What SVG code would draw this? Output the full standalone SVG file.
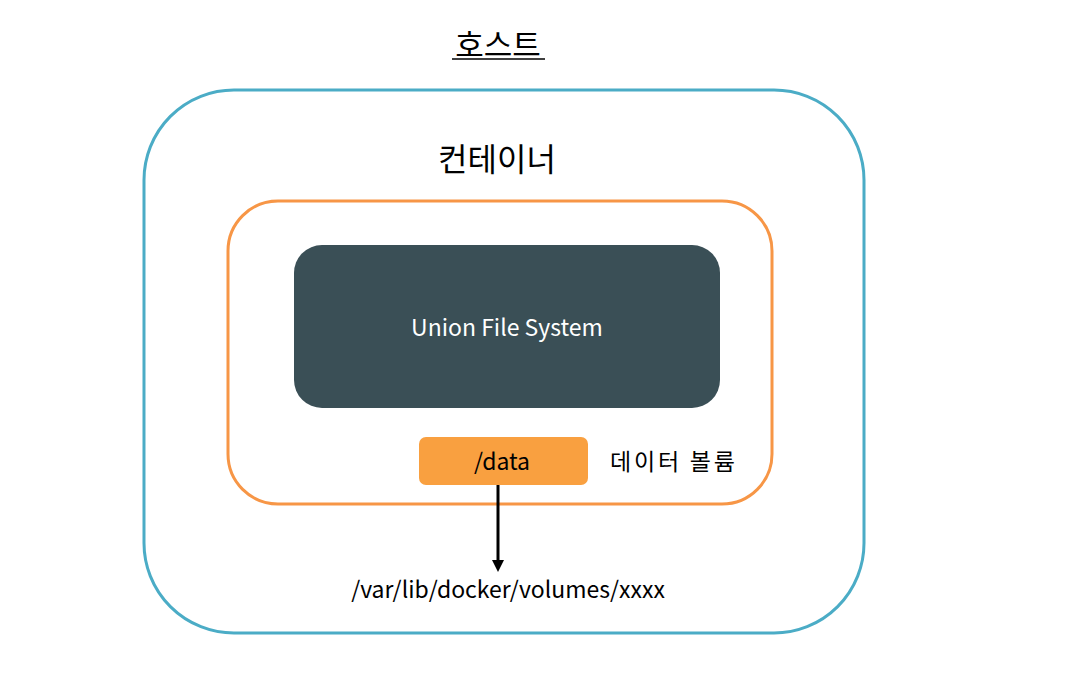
<svg xmlns="http://www.w3.org/2000/svg" width="1065" height="680" viewBox="0 0 1065 680">
<style>
text{font-family:"Noto Sans CJK KR","Noto Sans","Liberation Sans",sans-serif;}
.lbl{font-size:23px;fill:#000;}
</style>
<defs>
<marker id="ah" markerWidth="12" markerHeight="12" refX="6" refY="6" orient="auto" markerUnits="userSpaceOnUse" viewBox="0 0 12 12">
<path d="M0,0 L12,6 L0,12 z" fill="#000"/>
</marker>
</defs>
<rect width="1065" height="680" fill="#fff"/>
<g id="host">
<rect x="144" y="90" width="720" height="543" rx="90" ry="90" fill="none" stroke="#4bacc6" stroke-width="3"/>
<text x="498" y="56" text-anchor="middle" font-size="31">호스트</text>
<line x1="452" y1="59" x2="545" y2="59" stroke="#000" stroke-width="1.5"/>
</g>
<g id="container">
<rect x="228" y="201" width="544" height="303" rx="50" ry="50" fill="none" stroke="#f79646" stroke-width="3"/>
<text x="497" y="171" text-anchor="middle" font-size="32">컨테이너</text>
</g>
<g id="ufs">
<rect x="294" y="245" width="426" height="163" rx="28" ry="28" fill="#3a4f56"/>
<text x="507" y="336" text-anchor="middle" font-size="23" fill="#fff">Union File System</text>
</g>
<g id="data">
<rect x="419" y="437" width="169" height="48" rx="7" ry="7" fill="#f9a040"/>
<text class="lbl" x="502" y="470" text-anchor="middle">/data</text>
</g>
<g id="volume-label">
<text class="lbl" x="610" y="470" letter-spacing="2.8">데이터 볼륨</text>
</g>
<g id="hostpath">
<text class="lbl" x="508" y="598" text-anchor="middle">/var/lib/docker/volumes/xxxx</text>
</g>
<g id="connectors">
<line x1="498" y1="485" x2="498" y2="566" stroke="#000" stroke-width="3" marker-end="url(#ah)"/>
</g>
</svg>
